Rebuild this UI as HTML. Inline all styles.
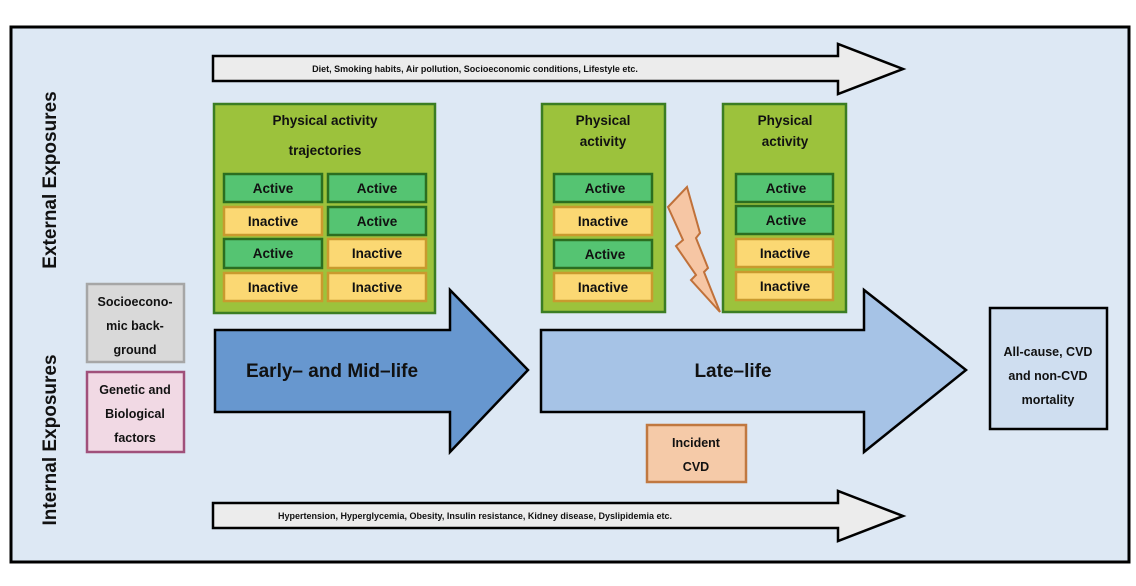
<!DOCTYPE html>
<html><head><meta charset="utf-8"><style>
html,body{margin:0;padding:0;background:#fff;}
svg{display:block;}
text{font-family:"Liberation Sans",sans-serif;font-weight:bold;fill:#111;}
</style></head><body>
<svg width="1136" height="586" viewBox="0 0 1136 586" xmlns="http://www.w3.org/2000/svg">
<rect x="11" y="27" width="1118" height="535" fill="#dde8f4" stroke="#000" stroke-width="3"/>
<polygon points="213,56 838,56 838,44 903,69 838,94 838,81 213,81" fill="#ececec" stroke="#000" stroke-width="2.5"/>
<text x="475" y="72" font-size="9" text-anchor="middle">Diet, Smoking habits, Air pollution,  Socioeconomic conditions, Lifestyle etc.</text>
<polygon points="213,503 838,503 838,491 903,516 838,541 838,528 213,528" fill="#ececec" stroke="#000" stroke-width="2.5"/>
<text x="475" y="519" font-size="9" text-anchor="middle">Hypertension, Hyperglycemia, Obesity, Insulin resistance, Kidney disease, Dyslipidemia etc.</text>
<text transform="translate(56,180) rotate(-90)" font-size="19" text-anchor="middle">External Exposures</text>
<text transform="translate(56,440) rotate(-90)" font-size="19" text-anchor="middle">Internal Exposures</text>
<!-- green box 1 -->
<rect x="214" y="104" width="221" height="209" fill="#9cc23c" stroke="#3b7d23" stroke-width="2.5"/>
<text x="325" y="125" font-size="13.5" text-anchor="middle">Physical activity</text>
<text x="325" y="155" font-size="13.5" text-anchor="middle">trajectories</text>
<rect x="224" y="174" width="98" height="28" fill="#55c472" stroke="#2b6e20" stroke-width="2.5"/><text x="273" y="193" font-size="13.5" text-anchor="middle">Active</text>
<rect x="328" y="174" width="98" height="28" fill="#55c472" stroke="#2b6e20" stroke-width="2.5"/><text x="377" y="193" font-size="13.5" text-anchor="middle">Active</text>
<rect x="224" y="207" width="98" height="28" fill="#fbd873" stroke="#c99a2e" stroke-width="2.5"/><text x="273" y="226" font-size="13.5" text-anchor="middle">Inactive</text>
<rect x="328" y="207" width="98" height="28" fill="#55c472" stroke="#2b6e20" stroke-width="2.5"/><text x="377" y="226" font-size="13.5" text-anchor="middle">Active</text>
<rect x="224" y="239" width="98" height="29" fill="#55c472" stroke="#2b6e20" stroke-width="2.5"/><text x="273" y="258" font-size="13.5" text-anchor="middle">Active</text>
<rect x="328" y="239" width="98" height="29" fill="#fbd873" stroke="#c99a2e" stroke-width="2.5"/><text x="377" y="258" font-size="13.5" text-anchor="middle">Inactive</text>
<rect x="224" y="273" width="98" height="28" fill="#fbd873" stroke="#c99a2e" stroke-width="2.5"/><text x="273" y="292" font-size="13.5" text-anchor="middle">Inactive</text>
<rect x="328" y="273" width="98" height="28" fill="#fbd873" stroke="#c99a2e" stroke-width="2.5"/><text x="377" y="292" font-size="13.5" text-anchor="middle">Inactive</text>
<!-- green box 2 -->
<rect x="542" y="104" width="123" height="208" fill="#9cc23c" stroke="#3b7d23" stroke-width="2.5"/>
<text x="603" y="125" font-size="13.5" text-anchor="middle">Physical</text>
<text x="603" y="146" font-size="13.5" text-anchor="middle">activity</text>
<rect x="554" y="174" width="98" height="28" fill="#55c472" stroke="#2b6e20" stroke-width="2.5"/><text x="605" y="193" font-size="13.5" text-anchor="middle">Active</text>
<rect x="554" y="207" width="98" height="28" fill="#fbd873" stroke="#c99a2e" stroke-width="2.5"/><text x="603" y="226" font-size="13.5" text-anchor="middle">Inactive</text>
<rect x="554" y="240" width="98" height="28" fill="#55c472" stroke="#2b6e20" stroke-width="2.5"/><text x="605" y="259" font-size="13.5" text-anchor="middle">Active</text>
<rect x="554" y="273" width="98" height="28" fill="#fbd873" stroke="#c99a2e" stroke-width="2.5"/><text x="603" y="292" font-size="13.5" text-anchor="middle">Inactive</text>
<!-- green box 3 -->
<rect x="723" y="104" width="123" height="208" fill="#9cc23c" stroke="#3b7d23" stroke-width="2.5"/>
<text x="785" y="125" font-size="13.5" text-anchor="middle">Physical</text>
<text x="785" y="146" font-size="13.5" text-anchor="middle">activity</text>
<rect x="736" y="174" width="97" height="28" fill="#55c472" stroke="#2b6e20" stroke-width="2.5"/><text x="786" y="193" font-size="13.5" text-anchor="middle">Active</text>
<rect x="736" y="206" width="97" height="28" fill="#55c472" stroke="#2b6e20" stroke-width="2.5"/><text x="786" y="225" font-size="13.5" text-anchor="middle">Active</text>
<rect x="736" y="239" width="97" height="28" fill="#fbd873" stroke="#c99a2e" stroke-width="2.5"/><text x="785" y="258" font-size="13.5" text-anchor="middle">Inactive</text>
<rect x="736" y="272" width="97" height="28" fill="#fbd873" stroke="#c99a2e" stroke-width="2.5"/><text x="785" y="291" font-size="13.5" text-anchor="middle">Inactive</text>
<!-- lightning -->
<polygon points="687,187 668,207 683,240 676,246 696,275 691,280 720,312 704,272 708,268 696,238 700,233" fill="#f6c6a4" stroke="#c0713a" stroke-width="2"/>
<!-- early arrow -->
<polygon points="215,330 450,330 450,290 528,370 450,452 450,412 215,412" fill="#6797cf" stroke="#000" stroke-width="2.5"/>
<text x="332" y="377" font-size="19" text-anchor="middle">Early– and Mid–life</text>
<!-- late arrow -->
<polygon points="541,330 864,330 864,290 966,370 864,452 864,412 541,412" fill="#a6c3e6" stroke="#000" stroke-width="2.5"/>
<text x="733" y="377" font-size="19" text-anchor="middle">Late–life</text>
<rect x="990" y="308" width="117" height="121" fill="#cfdef0" stroke="#000" stroke-width="2.5"/>
<text x="1048" y="356" font-size="12.5" text-anchor="middle">All-cause, CVD</text>
<text x="1048" y="380" font-size="12.5" text-anchor="middle">and non-CVD</text>
<text x="1048" y="404" font-size="12.5" text-anchor="middle">mortality</text>
<rect x="647" y="425" width="99" height="57" fill="#f5caa8" stroke="#c07840" stroke-width="2.5"/>
<text x="696" y="447" font-size="12.5" text-anchor="middle">Incident</text>
<text x="696" y="471" font-size="12.5" text-anchor="middle">CVD</text>
<rect x="87" y="284" width="97" height="78" fill="#d9d9d9" stroke="#a6a6a6" stroke-width="2.5"/>
<text x="135" y="306" font-size="12.5" text-anchor="middle">Socioecono-</text>
<text x="135" y="330" font-size="12.5" text-anchor="middle">mic back-</text>
<text x="135" y="354" font-size="12.5" text-anchor="middle">ground</text>
<rect x="87" y="372" width="97" height="80" fill="#f1d9e4" stroke="#a0507a" stroke-width="2.5"/>
<text x="135" y="394" font-size="12.5" text-anchor="middle">Genetic and</text>
<text x="135" y="418" font-size="12.5" text-anchor="middle">Biological</text>
<text x="135" y="442" font-size="12.5" text-anchor="middle">factors</text>
</svg>
</body></html>
